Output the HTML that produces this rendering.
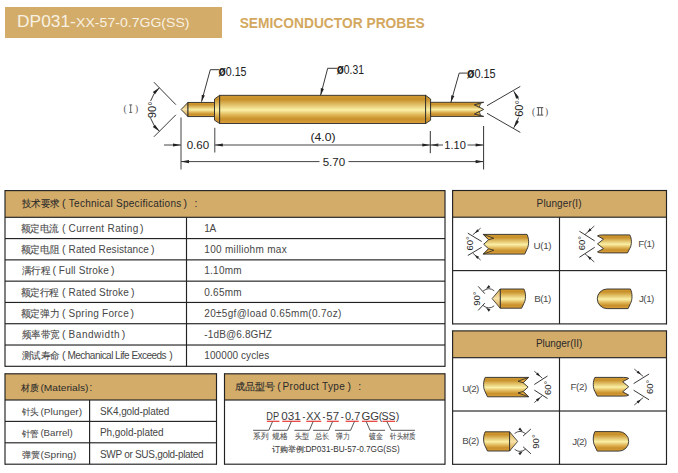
<!DOCTYPE html>
<html><head><meta charset="utf-8"><style>
html,body{margin:0;padding:0;background:#fff;width:678px;height:473px;overflow:hidden}
svg{position:absolute;left:0;top:0;font-family:"Liberation Sans",sans-serif}
</style></head><body>
<svg width="678" height="473" viewBox="0 0 678 473">
<defs>
<linearGradient id="gold" x1="0" y1="0" x2="0" y2="1">
<stop offset="0" stop-color="#d09a32"/><stop offset="0.15" stop-color="#c9912b"/>
<stop offset="0.52" stop-color="#faf0a6"/><stop offset="0.68" stop-color="#e3bb5e"/>
<stop offset="0.84" stop-color="#c98f2a"/><stop offset="1" stop-color="#d9a03c"/>
</linearGradient>
<linearGradient id="cone" x1="0" y1="0" x2="0" y2="1">
<stop offset="0" stop-color="#d8a848"/><stop offset="0.5" stop-color="#f8e3a8"/><stop offset="1" stop-color="#d39c3a"/>
</linearGradient>
</defs>
<rect x="5.00" y="7.00" width="217.00" height="31.00" fill="#D3AC69"/>
<text x="17.10" y="27.3" font-size="16.6" font-weight="normal" fill="#F8F1E2" textLength="58.76" lengthAdjust="spacingAndGlyphs" >DP031-</text>
<text x="76.10" y="27.4" font-size="13.6" font-weight="normal" fill="#F8F1E2" textLength="113.44" lengthAdjust="spacingAndGlyphs" >XX-57-0.7GG(SS)</text>
<text x="239.70" y="28" font-size="14.8" font-weight="bold" fill="#D3A85E" textLength="184.93" lengthAdjust="spacingAndGlyphs" >SEMICONDUCTOR PROBES</text>
<rect x="5.00" y="190.60" width="440.00" height="26.70" fill="#D3AC69"/>
<rect x="5.00" y="190.03" width="440.00" height="1.15" fill="#222222"/>
<rect x="5.00" y="365.73" width="440.00" height="1.15" fill="#222222"/>
<rect x="5.00" y="216.73" width="440.00" height="1.15" fill="#222222"/>
<rect x="4.42" y="190.03" width="1.15" height="176.85" fill="#222222"/>
<rect x="444.43" y="190.03" width="1.15" height="176.85" fill="#222222"/>
<rect x="5.00" y="238.01" width="440.00" height="1.15" fill="#222222"/>
<rect x="5.00" y="259.30" width="440.00" height="1.15" fill="#222222"/>
<rect x="5.00" y="280.58" width="440.00" height="1.15" fill="#222222"/>
<rect x="5.00" y="301.87" width="440.00" height="1.15" fill="#222222"/>
<rect x="5.00" y="323.15" width="440.00" height="1.15" fill="#222222"/>
<rect x="5.00" y="344.44" width="440.00" height="1.15" fill="#222222"/>
<rect x="185.93" y="217.30" width="1.15" height="149.00" fill="#222222"/>
<text x="21.50" y="207" font-size="10" font-weight="normal" fill="#2a2a2a" textLength="38.00" lengthAdjust="spacingAndGlyphs" stroke="#2a2a2a" stroke-width="0.1">技术要求</text>
<text x="61.9" y="207" font-size="10.5" fill="#2a2a2a" text-anchor="start" >(</text>
<text x="68.80" y="207" font-size="10" font-weight="normal" fill="#2a2a2a" textLength="112.48" lengthAdjust="spacing" >Technical Specifications</text>
<text x="183.4" y="207" font-size="10.5" fill="#2a2a2a" text-anchor="start" >)</text>
<text x="194.4" y="207" font-size="10.5" fill="#2a2a2a" text-anchor="start" >:</text>
<text x="20.50" y="231.7" font-size="10" font-weight="normal" fill="#464646" textLength="38.48" lengthAdjust="spacingAndGlyphs" stroke="#464646" stroke-width="0.1">额定电流</text>
<text x="61.9" y="231.7" font-size="10.5" fill="#464646" text-anchor="start" >(</text>
<text x="68.60" y="231.7" font-size="10" font-weight="normal" fill="#464646" textLength="69.69" lengthAdjust="spacing" >Current Rating</text>
<text x="140.1" y="231.7" font-size="10.5" fill="#464646" text-anchor="start" >)</text>
<text x="204.30" y="231.7" font-size="10" font-weight="normal" fill="#464646" textLength="11.87" lengthAdjust="spacing" >1A</text>
<text x="20.50" y="253.0" font-size="10" font-weight="normal" fill="#464646" textLength="39.11" lengthAdjust="spacingAndGlyphs" stroke="#464646" stroke-width="0.1">额定电阻</text>
<text x="61.9" y="253.0" font-size="10.5" fill="#464646" text-anchor="start" >(</text>
<text x="68.60" y="253.0" font-size="10" font-weight="normal" fill="#464646" textLength="80.28" lengthAdjust="spacing" >Rated Resistance</text>
<text x="150.9" y="253.0" font-size="10.5" fill="#464646" text-anchor="start" >)</text>
<text x="204.30" y="253.0" font-size="10" font-weight="normal" fill="#464646" textLength="82.39" lengthAdjust="spacing" >100 milliohm max</text>
<text x="21.50" y="274.3" font-size="10" font-weight="normal" fill="#464646" textLength="28.51" lengthAdjust="spacingAndGlyphs" stroke="#464646" stroke-width="0.1">满行程</text>
<text x="52.50000000000001" y="274.3" font-size="10.5" fill="#464646" text-anchor="start" >(</text>
<text x="58.80" y="274.3" font-size="10" font-weight="normal" fill="#464646" textLength="50.06" lengthAdjust="spacing" >Full Stroke</text>
<text x="110.89999999999999" y="274.3" font-size="10.5" fill="#464646" text-anchor="start" >)</text>
<text x="204.30" y="274.3" font-size="10" font-weight="normal" fill="#464646" textLength="37.28" lengthAdjust="spacing" >1.10mm</text>
<text x="20.50" y="295.6" font-size="10" font-weight="normal" fill="#464646" textLength="38.66" lengthAdjust="spacingAndGlyphs" stroke="#464646" stroke-width="0.1">额定行程</text>
<text x="61.9" y="295.6" font-size="10.5" fill="#464646" text-anchor="start" >(</text>
<text x="68.60" y="295.6" font-size="10" font-weight="normal" fill="#464646" textLength="60.20" lengthAdjust="spacing" >Rated Stroke</text>
<text x="130.9" y="295.6" font-size="10.5" fill="#464646" text-anchor="start" >)</text>
<text x="204.30" y="295.6" font-size="10" font-weight="normal" fill="#464646" textLength="37.30" lengthAdjust="spacing" >0.65mm</text>
<text x="20.50" y="316.8" font-size="10" font-weight="normal" fill="#464646" textLength="39.23" lengthAdjust="spacingAndGlyphs" stroke="#464646" stroke-width="0.1">额定弹力</text>
<text x="61.9" y="316.8" font-size="10.5" fill="#464646" text-anchor="start" >(</text>
<text x="68.60" y="316.8" font-size="10" font-weight="normal" fill="#464646" textLength="60.09" lengthAdjust="spacing" >Spring Force</text>
<text x="130.6" y="316.8" font-size="10.5" fill="#464646" text-anchor="start" >)</text>
<text x="204.30" y="316.8" font-size="10" font-weight="normal" fill="#464646" textLength="137.03" lengthAdjust="spacing" >20±5gf@load 0.65mm(0.7oz)</text>
<text x="21.50" y="338.1" font-size="10" font-weight="normal" fill="#464646" textLength="38.00" lengthAdjust="spacingAndGlyphs" stroke="#464646" stroke-width="0.1">频率带宽</text>
<text x="61.9" y="338.1" font-size="10.5" fill="#464646" text-anchor="start" >(</text>
<text x="68.60" y="338.1" font-size="10" font-weight="normal" fill="#464646" textLength="50.95" lengthAdjust="spacing" >Bandwidth</text>
<text x="121.8" y="338.1" font-size="10.5" fill="#464646" text-anchor="start" >)</text>
<text x="204.30" y="338.1" font-size="10" font-weight="normal" fill="#464646" textLength="67.68" lengthAdjust="spacing" >-1dB@6.8GHZ</text>
<text x="21.50" y="359.4" font-size="10" font-weight="normal" fill="#464646" textLength="38.00" lengthAdjust="spacingAndGlyphs" stroke="#464646" stroke-width="0.1">测试寿命</text>
<text x="61.9" y="359.4" font-size="10.5" fill="#464646" text-anchor="start" >(</text>
<text x="67.50" y="359.4" font-size="10" font-weight="normal" fill="#464646" textLength="99.09" lengthAdjust="spacing" >Mechanical Life Exceeds</text>
<text x="169.29999999999998" y="359.4" font-size="10.5" fill="#464646" text-anchor="start" >)</text>
<text x="204.30" y="359.4" font-size="10" font-weight="normal" fill="#464646" textLength="64.93" lengthAdjust="spacing" >100000 cycles</text>
<rect x="5.00" y="373.80" width="211.50" height="26.20" fill="#D3AC69"/>
<rect x="5.00" y="373.23" width="211.50" height="1.15" fill="#222222"/>
<rect x="5.00" y="463.62" width="211.50" height="1.15" fill="#222222"/>
<rect x="5.00" y="399.43" width="211.50" height="1.15" fill="#222222"/>
<rect x="4.42" y="373.23" width="1.15" height="91.55" fill="#222222"/>
<rect x="215.93" y="373.23" width="1.15" height="91.55" fill="#222222"/>
<rect x="5.00" y="420.82" width="211.50" height="1.15" fill="#222222"/>
<rect x="5.00" y="442.23" width="211.50" height="1.15" fill="#222222"/>
<rect x="89.02" y="400.00" width="1.15" height="64.20" fill="#222222"/>
<text x="21.30" y="390.8" font-size="9" font-weight="normal" fill="#2a2a2a" textLength="17.88" lengthAdjust="spacingAndGlyphs" stroke="#2a2a2a" stroke-width="0.1">材质</text>
<text x="40.40" y="390.6" font-size="9.8" font-weight="normal" fill="#2a2a2a" textLength="48.06" lengthAdjust="spacingAndGlyphs" >(Materials)</text>
<text x="89.5" y="390.8" font-size="10" fill="#2a2a2a" text-anchor="start" >:</text>
<text x="21.50" y="415.3" font-size="9" font-weight="normal" fill="#464646" textLength="17.26" lengthAdjust="spacingAndGlyphs" stroke="#464646" stroke-width="0.1">针头</text>
<text x="40.40" y="414.8" font-size="9.8" font-weight="normal" fill="#464646" textLength="41.65" lengthAdjust="spacingAndGlyphs" >(Plunger)</text>
<text x="100.00" y="414.8" font-size="10" font-weight="normal" fill="#464646" textLength="69.27" lengthAdjust="spacing" >SK4,gold-plated</text>
<text x="21.50" y="436.7" font-size="9" font-weight="normal" fill="#464646" textLength="17.14" lengthAdjust="spacingAndGlyphs" stroke="#464646" stroke-width="0.1">针管</text>
<text x="40.40" y="436.2" font-size="9.8" font-weight="normal" fill="#464646" textLength="32.29" lengthAdjust="spacingAndGlyphs" >(Barrel)</text>
<text x="100.00" y="436.2" font-size="10" font-weight="normal" fill="#464646" textLength="63.66" lengthAdjust="spacing" >Ph,gold-plated</text>
<text x="21.50" y="458.1" font-size="9" font-weight="normal" fill="#464646" textLength="18.34" lengthAdjust="spacingAndGlyphs" stroke="#464646" stroke-width="0.1">弹簧</text>
<text x="40.40" y="457.6" font-size="9.8" font-weight="normal" fill="#464646" textLength="35.99" lengthAdjust="spacingAndGlyphs" >(Spring)</text>
<text x="100.00" y="457.6" font-size="10" font-weight="normal" fill="#464646" textLength="103.66" lengthAdjust="spacing" >SWP or SUS,gold-plated</text>
<rect x="224.50" y="373.80" width="220.50" height="26.20" fill="#D3AC69"/>
<rect x="224.50" y="373.23" width="220.50" height="1.15" fill="#222222"/>
<rect x="224.50" y="463.62" width="220.50" height="1.15" fill="#222222"/>
<rect x="224.50" y="399.43" width="220.50" height="1.15" fill="#222222"/>
<rect x="223.93" y="373.23" width="1.15" height="91.55" fill="#222222"/>
<rect x="444.43" y="373.23" width="1.15" height="91.55" fill="#222222"/>
<text x="234.80" y="390.3" font-size="10" font-weight="normal" fill="#2a2a2a" textLength="39.79" lengthAdjust="spacingAndGlyphs" stroke="#2a2a2a" stroke-width="0.1">成品型号</text>
<text x="277.2" y="390.3" font-size="10.5" fill="#2a2a2a" text-anchor="start" >(</text>
<text x="282.50" y="390.3" font-size="10" font-weight="normal" fill="#2a2a2a" textLength="62.23" lengthAdjust="spacing" >Product Type</text>
<text x="347.6" y="390.3" font-size="10.5" fill="#2a2a2a" text-anchor="start" >)</text>
<text x="358.2" y="390.3" font-size="10.5" fill="#2a2a2a" text-anchor="start" >:</text>
<text x="266.30" y="419.6" font-size="10" font-weight="normal" fill="#3a3a3a" textLength="12.74" lengthAdjust="spacingAndGlyphs" >DP</text>
<text x="281.30" y="419.6" font-size="10" font-weight="normal" fill="#3a3a3a" textLength="19.46" lengthAdjust="spacingAndGlyphs" >031</text>
<text x="302.50" y="419.6" font-size="10" font-weight="normal" fill="#3a3a3a" textLength="2.80" lengthAdjust="spacingAndGlyphs" >-</text>
<text x="306.30" y="419.6" font-size="10" font-weight="normal" fill="#3a3a3a" textLength="14.47" lengthAdjust="spacingAndGlyphs" >XX</text>
<text x="322.50" y="419.6" font-size="10" font-weight="normal" fill="#3a3a3a" textLength="2.80" lengthAdjust="spacingAndGlyphs" >-</text>
<text x="326.30" y="419.6" font-size="10" font-weight="normal" fill="#3a3a3a" textLength="12.74" lengthAdjust="spacingAndGlyphs" >57</text>
<text x="340.65" y="419.6" font-size="10" font-weight="normal" fill="#3a3a3a" textLength="2.98" lengthAdjust="spacingAndGlyphs" >-</text>
<text x="345.00" y="419.6" font-size="10" font-weight="normal" fill="#3a3a3a" textLength="15.28" lengthAdjust="spacingAndGlyphs" >0.7</text>
<text x="361.40" y="419.6" font-size="10" font-weight="normal" fill="#3a3a3a" textLength="17.61" lengthAdjust="spacingAndGlyphs" >GG</text>
<text x="378.80" y="419.6" font-size="10" font-weight="normal" fill="#3a3a3a" textLength="3.54" lengthAdjust="spacingAndGlyphs" >(</text>
<text x="381.40" y="419.6" font-size="10" font-weight="normal" fill="#3a3a3a" textLength="14.07" lengthAdjust="spacingAndGlyphs" >SS</text>
<text x="395.65" y="419.6" font-size="10" font-weight="normal" fill="#3a3a3a" textLength="3.58" lengthAdjust="spacingAndGlyphs" >)</text>
<text x="272.00" y="452.3" font-size="8.2" font-weight="normal" fill="#333" textLength="31.77" lengthAdjust="spacingAndGlyphs" stroke="#333" stroke-width="0.1">订购举例</text>
<text x="303.6" y="452.3" font-size="8.5" fill="#333" text-anchor="start" >:</text>
<text x="305.40" y="452.3" font-size="9" font-weight="normal" fill="#333" textLength="94.29" lengthAdjust="spacingAndGlyphs" >DP031-BU-57-0.7GG(SS)</text>
<rect x="266.90" y="420.70" width="12.50" height="1.20" fill="#e53935"/>
<rect x="282.25" y="420.70" width="18.35" height="1.20" fill="#e53935"/>
<rect x="306.25" y="420.70" width="15.00" height="1.20" fill="#e53935"/>
<rect x="326.75" y="420.70" width="12.00" height="1.20" fill="#e53935"/>
<rect x="345.60" y="420.70" width="13.15" height="1.20" fill="#e53935"/>
<rect x="361.90" y="420.70" width="15.60" height="1.20" fill="#e53935"/>
<rect x="382.50" y="420.70" width="12.50" height="1.20" fill="#e53935"/>
<polyline points="272.5,421.6 268.75,430.3 253.1,430.3" fill="none" stroke="#444" stroke-width="0.9"/>
<polyline points="291.25,421.6 287.5,430.3 272.5,430.3" fill="none" stroke="#444" stroke-width="0.9"/>
<polyline points="313.1,421.6 309.4,430.3 294.4,430.3" fill="none" stroke="#444" stroke-width="0.9"/>
<polyline points="332.5,421.6 328.75,430.3 313.1,430.3" fill="none" stroke="#444" stroke-width="0.9"/>
<polyline points="354.4,421.6 350.6,430.3 335,430.3" fill="none" stroke="#444" stroke-width="0.9"/>
<polyline points="366.25,421.6 370,430.3 385,430.3" fill="none" stroke="#444" stroke-width="0.9"/>
<polyline points="386.9,421.6 391.25,430.3 415,430.3" fill="none" stroke="#444" stroke-width="0.9"/>
<text x="252.90" y="438.6" font-size="7.5" font-weight="normal" fill="#555" textLength="15.28" lengthAdjust="spacingAndGlyphs" stroke="#555" stroke-width="0.1">系列</text>
<text x="271.90" y="438.6" font-size="7.5" font-weight="normal" fill="#555" textLength="15.59" lengthAdjust="spacingAndGlyphs" stroke="#555" stroke-width="0.1">规格</text>
<text x="294.80" y="438.6" font-size="7.5" font-weight="normal" fill="#555" textLength="14.00" lengthAdjust="spacingAndGlyphs" stroke="#555" stroke-width="0.1">头型</text>
<text x="314.80" y="438.6" font-size="7.5" font-weight="normal" fill="#555" textLength="14.52" lengthAdjust="spacingAndGlyphs" stroke="#555" stroke-width="0.1">总长</text>
<text x="336.00" y="438.6" font-size="7.5" font-weight="normal" fill="#555" textLength="13.73" lengthAdjust="spacingAndGlyphs" stroke="#555" stroke-width="0.1">弹力</text>
<text x="369.15" y="438.6" font-size="7.5" font-weight="normal" fill="#555" textLength="13.56" lengthAdjust="spacingAndGlyphs" stroke="#555" stroke-width="0.1">镀金</text>
<text x="390.40" y="438.6" font-size="7.5" font-weight="normal" fill="#555" textLength="25.29" lengthAdjust="spacingAndGlyphs" stroke="#555" stroke-width="0.1">针头材质</text>
<rect x="452.60" y="190.50" width="213.90" height="26.70" fill="#D3AC69"/>
<rect x="452.60" y="189.93" width="213.90" height="1.15" fill="#222222"/>
<rect x="452.60" y="323.32" width="213.90" height="1.15" fill="#222222"/>
<rect x="452.60" y="216.62" width="213.90" height="1.15" fill="#222222"/>
<rect x="452.03" y="189.93" width="1.15" height="134.55" fill="#222222"/>
<rect x="665.92" y="189.93" width="1.15" height="134.55" fill="#222222"/>
<rect x="452.60" y="270.03" width="213.90" height="1.15" fill="#222222"/>
<rect x="558.92" y="217.20" width="1.15" height="106.70" fill="#222222"/>
<rect x="452.60" y="330.90" width="213.90" height="26.80" fill="#D3AC69"/>
<rect x="452.60" y="330.32" width="213.90" height="1.15" fill="#222222"/>
<rect x="452.60" y="463.73" width="213.90" height="1.15" fill="#222222"/>
<rect x="452.60" y="357.12" width="213.90" height="1.15" fill="#222222"/>
<rect x="452.03" y="330.32" width="1.15" height="134.55" fill="#222222"/>
<rect x="665.92" y="330.32" width="1.15" height="134.55" fill="#222222"/>
<rect x="452.60" y="410.43" width="213.90" height="1.15" fill="#222222"/>
<rect x="558.92" y="357.70" width="1.15" height="106.60" fill="#222222"/>
<text x="536.60" y="206.8" font-size="10" font-weight="normal" fill="#2a2a2a" textLength="44.99" lengthAdjust="spacing" >Plunger(I)</text>
<text x="535.90" y="347.4" font-size="10" font-weight="normal" fill="#2a2a2a" textLength="46.41" lengthAdjust="spacing" >Plunger(II)</text>
<text x="533.40" y="248.5" font-size="9.8" font-weight="normal" fill="#4a4a4a" textLength="18.20" lengthAdjust="spacing" >U(1)</text>
<text x="638.30" y="247.10000000000002" font-size="9.8" font-weight="normal" fill="#4a4a4a" textLength="16.55" lengthAdjust="spacing" >F(1)</text>
<text x="534.30" y="301.8" font-size="9.8" font-weight="normal" fill="#4a4a4a" textLength="16.88" lengthAdjust="spacing" >B(1)</text>
<text x="638.90" y="301.8" font-size="9.8" font-weight="normal" fill="#4a4a4a" textLength="15.48" lengthAdjust="spacing" >J(1)</text>
<text x="462.20" y="391.5" font-size="9.8" font-weight="normal" fill="#4a4a4a" textLength="17.09" lengthAdjust="spacing" >U(2)</text>
<text x="570.60" y="390.0" font-size="9.8" font-weight="normal" fill="#4a4a4a" textLength="16.55" lengthAdjust="spacing" >F(2)</text>
<text x="462.30" y="444.3" font-size="9.8" font-weight="normal" fill="#4a4a4a" textLength="16.88" lengthAdjust="spacing" >B(2)</text>
<text x="572.20" y="445.0" font-size="9.8" font-weight="normal" fill="#4a4a4a" textLength="14.91" lengthAdjust="spacing" >J(2)</text>
<text x="218.60" y="75.6" font-size="12.5" font-weight="normal" fill="#222" textLength="27.92" lengthAdjust="spacingAndGlyphs" ><tspan font-weight="bold" font-size="14">ø</tspan>0.15</text>
<text x="336.70" y="73.6" font-size="12.5" font-weight="normal" fill="#222" textLength="27.29" lengthAdjust="spacingAndGlyphs" ><tspan font-weight="bold" font-size="14">ø</tspan>0.31</text>
<text x="467.00" y="77.7" font-size="12.5" font-weight="normal" fill="#222" textLength="28.70" lengthAdjust="spacingAndGlyphs" ><tspan font-weight="bold" font-size="14">ø</tspan>0.15</text>
<text x="186.70" y="149.2" font-size="11.5" font-weight="normal" fill="#222" textLength="22.51" lengthAdjust="spacingAndGlyphs" >0.60</text>
<text x="310.40" y="141" font-size="11.5" font-weight="normal" fill="#222" textLength="25.13" lengthAdjust="spacingAndGlyphs" >(4.0)</text>
<text x="322.70" y="165.6" font-size="11.5" font-weight="normal" fill="#222" textLength="22.51" lengthAdjust="spacingAndGlyphs" >5.70</text>
<text x="444.30" y="149.2" font-size="11.5" font-weight="normal" fill="#222" textLength="21.49" lengthAdjust="spacingAndGlyphs" >1.10</text>
<polygon points="181.1,109.5 188,102.4 188,116.6" fill="url(#cone)" stroke="#2a2a2a" stroke-width="0.9" stroke-linejoin="round"/>
<rect x="188" y="102.4" width="26.5" height="14.2" fill="url(#gold)" stroke="#2a2a2a" stroke-width="0.9"/>
<polygon points="214.5,99 219.7,95.3 219.7,123.5 214.5,120.2" fill="url(#gold)" stroke="#2a2a2a" stroke-width="0.9"/>
<rect x="219.7" y="95.3" width="205.9" height="28.2" fill="url(#gold)" stroke="#2a2a2a" stroke-width="0.9"/>
<polygon points="425.6,95.3 430.6,99 430.6,120.2 425.6,123.5" fill="url(#gold)" stroke="#2a2a2a" stroke-width="0.9"/>
<polygon points="430.6,102.3 483.7,102.3 474.6,104.8 483.7,109.4 474.6,114 483.7,116.4 430.6,116.4" fill="url(#gold)" stroke="#2a2a2a" stroke-width="0.9" stroke-linejoin="miter"/>
<path d="M474.6,104.8 L480.6,103.6 L479.3,107.1 Z M474.6,114 L480.6,115.2 L479.3,111.7 Z" fill="#e2b040" stroke="#2a2a2a" stroke-width="0.7" stroke-linejoin="round"/>
<line x1="153.9" y1="82.2" x2="175.9" y2="104.7" stroke="#222" stroke-width="0.9"/>
<line x1="175.9" y1="114.8" x2="153.9" y2="136.8" stroke="#222" stroke-width="0.9"/>
<path d="M159.3,87.8 A30.7,30.7 0 0 0 150.6,101 M150.6,118.2 A30.7,30.7 0 0 0 159.3,131.2" fill="none" stroke="#222" stroke-width="0.9"/>
<polygon points="159.60,87.50 155.07,94.29 152.81,92.03" fill="#222"/>
<polygon points="159.60,131.50 152.81,126.97 155.07,124.71" fill="#222"/>
<text x="0" y="0" font-size="11.2" fill="#222" transform="translate(155.6,109.8) rotate(-90)" text-anchor="middle">90°</text>
<text x="123.4" y="111.8" font-size="9.5" fill="#555" font-family="Liberation Serif">(</text><text x="134.9" y="111.8" font-size="9.5" fill="#555" font-family="Liberation Serif">)</text>
<path d="M129.2,104.9 H132.2 M129.2,112.4 H132.2 M130.7,104.9 V112.4" stroke="#555" stroke-width="0.9" fill="none"/>
<line x1="487" y1="105.7" x2="520.3" y2="86.4" stroke="#222" stroke-width="0.9"/>
<line x1="487" y1="113.3" x2="520.3" y2="132.4" stroke="#222" stroke-width="0.9"/>
<path d="M513.8,91.3 A35.2,35.2 0 0 1 518.5,99.5 M518.5,117.5 A35.2,35.2 0 0 1 513.8,127.7" fill="none" stroke="#222" stroke-width="0.9"/>
<polygon points="513.60,91.00 518.99,97.13 516.21,98.73" fill="#222"/>
<polygon points="513.60,128.00 516.21,120.27 518.99,121.87" fill="#222"/>
<text x="0" y="0" font-size="11.2" fill="#222" transform="translate(522.6,108.4) rotate(-90)" text-anchor="middle">60°</text>
<text x="532" y="114.6" font-size="9.5" fill="#555" font-family="Liberation Serif">(</text><text x="545.1" y="114.6" font-size="9.5" fill="#555" font-family="Liberation Serif">)</text>
<path d="M536.8,107.6 H543.3 M536.8,115.1 H543.3 M538.4,107.6 V115.1 M541.7,107.6 V115.1" stroke="#444" stroke-width="0.9" fill="none"/>
<line x1="181" y1="117.5" x2="181" y2="169.5" stroke="#444" stroke-width="1"/>
<line x1="214.8" y1="127.8" x2="214.8" y2="152.5" stroke="#444" stroke-width="1"/>
<line x1="430.3" y1="131" x2="430.3" y2="153.2" stroke="#333" stroke-width="1"/>
<line x1="483.6" y1="126" x2="483.6" y2="169.5" stroke="#333" stroke-width="1"/>
<line x1="164" y1="145" x2="181" y2="145" stroke="#444" stroke-width="1"/>
<polygon points="181.00,145.00 173.00,146.60 173.00,143.40" fill="#222"/>
<line x1="214.8" y1="145" x2="430.3" y2="145" stroke="#444" stroke-width="1"/>
<polygon points="214.80,145.00 222.80,143.40 222.80,146.60" fill="#222"/>
<polygon points="430.30,145.00 422.30,146.60 422.30,143.40" fill="#222"/>
<polygon points="430.30,145.00 438.30,143.40 438.30,146.60" fill="#222"/>
<line x1="430.3" y1="145" x2="443" y2="145" stroke="#444" stroke-width="1"/>
<line x1="467.5" y1="145" x2="483.6" y2="145" stroke="#444" stroke-width="1"/>
<polygon points="483.60,145.00 475.60,146.60 475.60,143.40" fill="#222"/>
<line x1="181" y1="161.6" x2="319.5" y2="161.6" stroke="#444" stroke-width="1"/>
<polygon points="181.00,161.60 189.00,160.00 189.00,163.20" fill="#222"/>
<line x1="348.5" y1="161.6" x2="483.6" y2="161.6" stroke="#444" stroke-width="1"/>
<polygon points="483.60,161.60 475.60,163.20 475.60,160.00" fill="#222"/>
<polyline points="219.2,69.7 210.3,69.7 201.5,101.8" fill="none" stroke="#222" stroke-width="0.9"/>
<polygon points="201.50,101.80 201.81,94.63 204.89,95.47" fill="#222"/>
<polyline points="337.1,68.3 327.7,68.3 320.6,95.3" fill="none" stroke="#222" stroke-width="0.9"/>
<polygon points="320.60,95.30 320.83,88.12 323.93,88.94" fill="#222"/>
<polyline points="467.4,73.1 459.2,73.1 450.9,102.3" fill="none" stroke="#222" stroke-width="0.9"/>
<polygon points="450.90,102.30 451.27,95.13 454.35,96.00" fill="#222"/>
<path d="M483.30,234.40 L527.00,234.40 C529.10,238.34 529.20,245.24 527.00,249.18 L524.70,254.10 L483.30,254.10 L488.60,248.80 L483.70,244.25 L488.60,239.70 Z" fill="url(#gold)" stroke="#2a2a2a" stroke-width="0.9" stroke-linejoin="round"/><path d="M483.30,234.40 L493.80,238.30 L488.60,239.70 Z M483.30,254.10 L493.80,250.20 L488.60,248.80 Z" fill="#e0a83a" stroke="#2a2a2a" stroke-width="0.8" stroke-linejoin="round"/>
<path d="M602.50,234.90 L629.80,234.90 C631.90,238.50 632.00,244.80 629.80,248.40 L627.50,252.90 L602.50,252.90 Q598.50,252.90 597.50,251.90 L603.50,248.60 L597.50,243.90 L603.50,239.20 L597.50,235.90 Q598.50,234.90 602.50,234.90 Z" fill="url(#gold)" stroke="#2a2a2a" stroke-width="0.9" stroke-linejoin="round"/>
<path d="M500.20,289.00 L523.90,289.00 C526.00,292.84 526.10,299.56 523.90,303.40 L521.60,308.20 L500.20,308.20 Z" fill="url(#gold)" stroke="#2a2a2a" stroke-width="0.9" stroke-linejoin="round"/><polygon points="492.10,298.60 500.20,289.00 500.20,308.20" fill="url(#cone)" stroke="#2a2a2a" stroke-width="0.8" stroke-linejoin="round"/>
<path d="M607.10,289.00 L630.40,289.00 C632.50,292.92 632.60,299.78 630.40,303.70 L628.10,308.60 L607.10,308.60 A9.80,9.80 0 0 1 607.10,289.00 Z" fill="url(#gold)" stroke="#2a2a2a" stroke-width="0.9" stroke-linejoin="round"/>
<g transform="translate(1012.10,0) scale(-1,1)"><path d="M483.60,377.40 L526.90,377.40 C529.00,381.28 529.10,388.07 526.90,391.95 L524.60,396.80 L483.60,396.80 L488.90,391.50 L484.00,387.10 L488.90,382.70 Z" fill="url(#gold)" stroke="#2a2a2a" stroke-width="0.9" stroke-linejoin="round"/><path d="M483.60,377.40 L494.10,381.30 L488.90,382.70 Z M483.60,396.80 L494.10,392.90 L488.90,391.50 Z" fill="#e0a83a" stroke="#2a2a2a" stroke-width="0.8" stroke-linejoin="round"/></g>
<g transform="translate(1222.00,0) scale(-1,1)"><path d="M598.30,377.40 L627.10,377.40 C629.20,381.14 629.30,387.69 627.10,391.43 L624.80,396.10 L598.30,396.10 Q594.30,396.10 593.30,395.10 L599.30,391.80 L593.30,386.75 L599.30,381.70 L593.30,378.40 Q594.30,377.40 598.30,377.40 Z" fill="url(#gold)" stroke="#2a2a2a" stroke-width="0.9" stroke-linejoin="round"/></g>
<g transform="translate(1001.30,0) scale(-1,1)"><path d="M491.70,431.80 L516.10,431.80 C518.20,435.64 518.30,442.36 516.10,446.20 L513.80,451.00 L491.70,451.00 Z" fill="url(#gold)" stroke="#2a2a2a" stroke-width="0.9" stroke-linejoin="round"/><polygon points="483.60,441.40 491.70,431.80 491.70,451.00" fill="url(#cone)" stroke="#2a2a2a" stroke-width="0.8" stroke-linejoin="round"/></g>
<g transform="translate(1222.00,0) scale(-1,1)"><path d="M603.05,431.60 L627.10,431.60 C629.20,435.50 629.30,442.33 627.10,446.23 L624.80,451.10 L603.05,451.10 A9.75,9.75 0 0 1 603.05,431.60 Z" fill="url(#gold)" stroke="#2a2a2a" stroke-width="0.9" stroke-linejoin="round"/></g>
<line x1="467.8" y1="233.2" x2="481.7" y2="241.5" stroke="#222" stroke-width="0.9"/>
<line x1="481.7" y1="247.3" x2="467.8" y2="255.5" stroke="#222" stroke-width="0.9"/>
<line x1="480.6" y1="228.2" x2="472.8" y2="234.8" stroke="#222" stroke-width="0.8"/><polygon points="474.75,233.15 477.28,229.17 479.09,231.31" fill="#222"/>
<line x1="480.6" y1="260" x2="472.8" y2="253.2" stroke="#222" stroke-width="0.8"/><polygon points="474.75,254.90 479.06,256.80 477.22,258.91" fill="#222"/>
<text x="0" y="0" font-size="9.5" fill="#222" transform="translate(473.02,243.30) rotate(-90)" text-anchor="middle">60°</text>
<line x1="579.4" y1="231.2" x2="594.7" y2="240.9" stroke="#222" stroke-width="0.9"/>
<line x1="594.7" y1="247.3" x2="579.4" y2="257.3" stroke="#222" stroke-width="0.9"/>
<line x1="594.3" y1="226" x2="585" y2="234.5" stroke="#222" stroke-width="0.8"/><polygon points="587.33,232.38 589.70,228.31 591.59,230.37" fill="#222"/>
<line x1="594.3" y1="262" x2="585" y2="253.8" stroke="#222" stroke-width="0.8"/><polygon points="587.33,255.85 591.63,257.78 589.77,259.88" fill="#222"/>
<text x="0" y="0" font-size="9.5" fill="#222" transform="translate(585.42,243.10) rotate(-90)" text-anchor="middle">60°</text>
<line x1="534.3" y1="384.5" x2="547.5" y2="376" stroke="#222" stroke-width="0.9"/>
<line x1="534.3" y1="390.1" x2="547.5" y2="398.5" stroke="#222" stroke-width="0.9"/>
<line x1="534.3" y1="371.2" x2="542.3" y2="378.2" stroke="#222" stroke-width="0.8"/><polygon points="540.30,376.45 535.99,374.54 537.84,372.43" fill="#222"/>
<line x1="534.3" y1="402.6" x2="542.3" y2="395.7" stroke="#222" stroke-width="0.8"/><polygon points="540.30,397.43 537.81,401.42 535.98,399.30" fill="#222"/>
<text x="0" y="0" font-size="9.5" fill="#222" transform="translate(550.72,387.90) rotate(-90)" text-anchor="middle">60°</text>
<line x1="633.6" y1="383.6" x2="649.1" y2="374" stroke="#222" stroke-width="0.9"/>
<line x1="633.6" y1="390.2" x2="649.1" y2="399.8" stroke="#222" stroke-width="0.9"/>
<line x1="634.3" y1="369.1" x2="643.2" y2="376.4" stroke="#222" stroke-width="0.8"/><polygon points="640.98,374.57 636.61,372.80 638.38,370.64" fill="#222"/>
<line x1="634.3" y1="405" x2="643.2" y2="397.6" stroke="#222" stroke-width="0.8"/><polygon points="640.98,399.45 638.41,403.40 636.62,401.25" fill="#222"/>
<text x="0" y="0" font-size="9.5" fill="#222" transform="translate(653.22,386.90) rotate(-90)" text-anchor="middle">60°</text>
<line x1="478.2" y1="286.4" x2="484.8" y2="293.7" stroke="#222" stroke-width="0.9"/>
<line x1="484.8" y1="303.1" x2="478.2" y2="310.4" stroke="#222" stroke-width="0.9"/>
<path d="M494.2,290.8 Q489,286.5 483.1,291" fill="none" stroke="#222" stroke-width="0.8"/>
<polygon points="486.05,288.75 488.78,284.91 490.48,287.13" fill="#222"/>
<path d="M494.2,305.8 Q489,310.1 483.1,305.6" fill="none" stroke="#222" stroke-width="0.8"/>
<polygon points="486.05,307.85 490.48,309.47 488.78,311.69" fill="#222"/>
<text x="0" y="0" font-size="9.5" fill="#222" transform="translate(480.42,298.60) rotate(-90)" text-anchor="middle">90°</text>
<line x1="523.1" y1="436" x2="530.9" y2="429" stroke="#222" stroke-width="0.9"/>
<line x1="523.1" y1="446.8" x2="530.9" y2="453.8" stroke="#222" stroke-width="0.9"/>
<path d="M514.6,433.5 Q519.8,429.2 525.7,433.7" fill="none" stroke="#222" stroke-width="0.8"/>
<polygon points="522.75,431.45 518.32,429.83 520.02,427.61" fill="#222"/>
<path d="M514.6,449.3 Q519.8,453.6 525.7,449.1" fill="none" stroke="#222" stroke-width="0.8"/>
<polygon points="522.75,451.35 520.02,455.19 518.32,452.97" fill="#222"/>
<text x="0" y="0" font-size="9.5" fill="#222" transform="translate(538.92,441.50) rotate(-90)" text-anchor="middle">90°</text>
</svg>
</body></html>
